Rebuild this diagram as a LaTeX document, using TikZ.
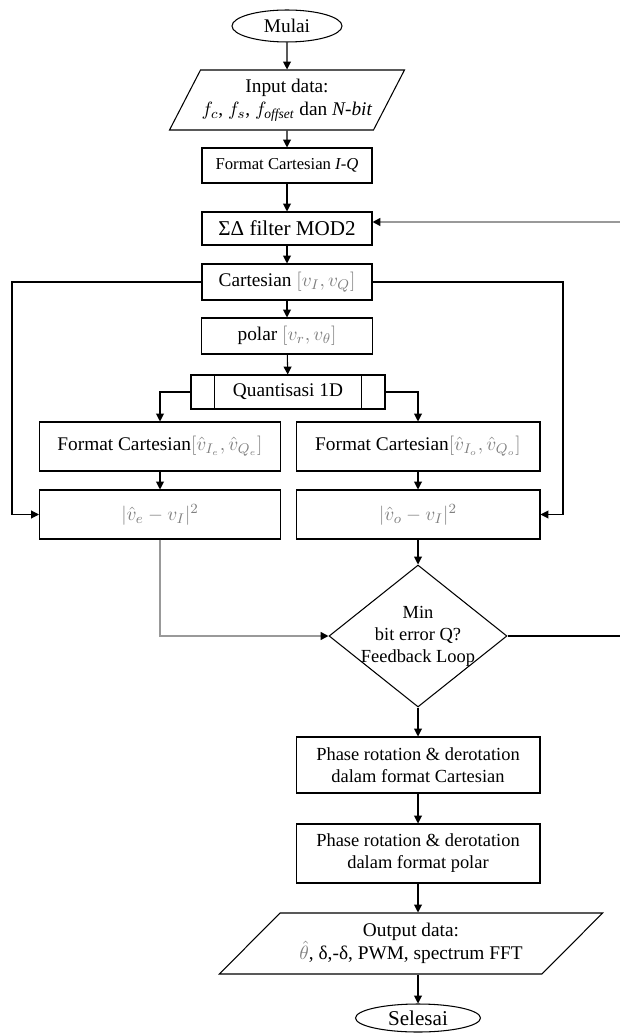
\documentclass[tikz,border=0pt]{standalone}
\usepackage{fontspec}
\setmainfont{Liberation Serif}
\usetikzlibrary{shapes.geometric,arrows.meta}
\colorlet{rumus}{black!50}

\begin{document}
\begin{tikzpicture}[x=0.02cm, y=-0.02cm,
        font=\fontsize{11}{13}\selectfont,
        panah/.style={-{Triangle[length=4.5pt,width=4.5pt,color=black]}, line width=0.6pt},
        abu/.style={draw=black!40, line width=0.9pt},
        kotak/.style={draw, line width=0.6pt, align=center, inner sep=1pt},
        terminal/.style={draw, ellipse, line width=0.6pt, inner sep=0pt},
        data/.style={draw, trapezium, trapezium stretches=true, line width=0.6pt, align=center, inner sep=0pt},
        keputusan/.style={draw, diamond, line width=0.6pt, align=center, aspect=1.25, inner sep=-4pt}]
        \useasboundingbox (0,0) rectangle (619,1033);

        % Blok
        \node[terminal, minimum width=2.2cm, minimum height=0.64cm] (mulai) at (287,26) {Mulai};
        \node[data, trapezium left angle=54, trapezium right angle=126, minimum width=4.7cm, minimum height=1.2cm] (input) at (287,100) {Input data:\\ $f_c$, $f_s$, $f_{\mathit{offset}}$ dan \textit{N-bit}};
        \node[kotak, minimum width=3.4cm, minimum height=0.7cm, font=\fontsize{9.5}{11}\selectfont] (fmtiq) at (287,165.5) {Format Cartesian \textit{I-Q}};
        \node[kotak, minimum width=3.4cm, minimum height=0.66cm, font=\fontsize{12}{14}\selectfont] (sigmadelta) at (287,228.5) {ΣΔ filter MOD2};
        \node[kotak, minimum width=3.4cm, minimum height=0.72cm] (cart) at (287,282) {Cartesian {\color{rumus}$[v_I, v_Q]$}};
        \node[kotak, minimum width=3.42cm, minimum height=0.72cm] (polar) at (287,336) {polar {\color{rumus}$[v_r, v_\theta]$}};
        \node[kotak, minimum width=3.88cm, minimum height=0.68cm] (quant) at (288,392) {Quantisasi 1D};
        \node[kotak, minimum width=4.82cm, minimum height=0.98cm] (fmte) at (160,446.5) {Format Cartesian{\color{rumus}$[\hat{v}_{I_e}, \hat{v}_{Q_e}]$}};
        \node[kotak, minimum width=4.88cm, minimum height=0.98cm] (fmto) at (418,446.5) {Format Cartesian{\color{rumus}$[\hat{v}_{I_o}, \hat{v}_{Q_o}]$}};
        \node[kotak, minimum width=4.82cm, minimum height=0.98cm] (erre) at (160,514.5) {{\color{rumus}$|\hat{v}_e - v_I|^2$}};
        \node[kotak, minimum width=4.88cm, minimum height=0.98cm] (erro) at (418,514.5) {{\color{rumus}$|\hat{v}_o - v_I|^2$}};
        \node[keputusan, minimum width=3.56cm, minimum height=2.84cm, font=\fontsize{10.5}{12.5}\selectfont] (cek) at (418,636) {Min\\ bit error Q?\\ Feedback Loop};
        \node[kotak, minimum width=4.88cm, minimum height=1.12cm, font=\fontsize{10.5}{12.5}\selectfont] (fasa1) at (418,765) {Phase rotation \& derotation\\ dalam format Cartesian};
        \node[kotak, minimum width=4.88cm, minimum height=1.18cm, font=\fontsize{10.5}{12.5}\selectfont] (fasa2) at (418,853.5) {Phase rotation \& derotation\\ dalam format polar};
        \node[data, trapezium left angle=38, trapezium right angle=142, minimum width=7.68cm, minimum height=1.22cm] (output) at (411,943.5) {Output data:\\ {\color{rumus}$\hat{\theta}$}, δ,-δ, PWM, spectrum FFT};
        \node[terminal, minimum width=2.5cm, minimum height=0.56cm, font=\fontsize{12}{14}\selectfont] (selesai) at (418,1018) {Selesai};

        \draw[line width=0.6pt] ([xshift=0.48cm]quant.north west) -- ([xshift=0.48cm]quant.south west);
        \draw[line width=0.6pt] ([xshift=-0.48cm]quant.north east) -- ([xshift=-0.48cm]quant.south east);

        \coordinate (kiri) at (12,282);
        \coordinate (kanan) at (563,282);
        \coordinate (umpan) at (650,222);

        % Panah
        \draw[panah] (mulai) -- (input);
        \draw[panah] (input) -- (fmtiq);
        \draw[panah] (fmtiq) -- (sigmadelta);
        \draw[panah] (sigmadelta) -- (cart);
        \draw[panah] (cart) -- (polar);
        \draw[panah] (polar) -- (quant);
        \draw[panah] (quant.west) -| (fmte.north);
        \draw[panah] (quant.east) -| (fmto.north);
        \draw[panah] (fmte) -- (erre);
        \draw[panah] (fmto) -- (erro);
        \draw[panah] (cart.west) -- (kiri) |- (erre.west);
        \draw[panah] (cart.east) -- (kanan) |- (erro.east);
        \draw[panah] (erro) -- (cek);
        \draw[panah, abu] (erre.south) |- (cek.west);
        \draw[panah] (cek) -- (fasa1);
        \draw[panah] (fasa1) -- (fasa2);
        \draw[panah] (fasa2) -- (output.north -| fasa2);
        \draw[panah] (output.south -| selesai) -- (selesai);

        % Umpan balik
        \draw[line width=0.6pt] (cek.east) -- (cek.east -| umpan);
        \draw[panah, abu] (cek.east -| umpan) -- (umpan) -- (umpan -| sigmadelta.east);
\end{tikzpicture}
\end{document}
